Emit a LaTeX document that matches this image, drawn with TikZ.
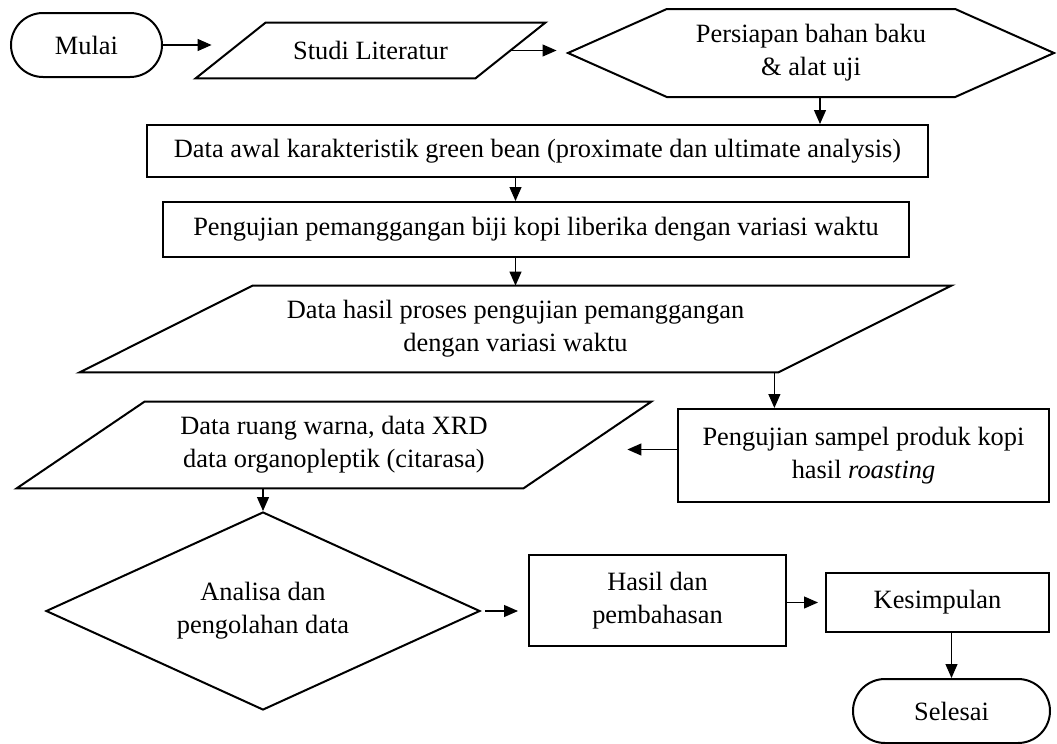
\documentclass[tikz,border=0pt]{standalone}
\usepackage{fontspec}
\setmainfont{Liberation Serif}
\usetikzlibrary{shapes.geometric,shapes.misc,shapes.symbols,arrows.meta}

\begin{document}
\begin{tikzpicture}[
      x=0.5pt, y=-0.5pt,
      every node/.style={font=\fontsize{13.2}{16.5}\selectfont, align=center, inner sep=0pt},
      box/.style={draw, line width=1pt, rectangle},
      terminal/.style={draw, line width=1pt, rounded rectangle},
      datanode/.style={rectangle},
      outline/.style={draw, line width=1pt, line join=miter},
      prep/.style={draw, line width=1pt, signal, signal to=west and east, signal pointer angle=48},
      decision/.style={draw, line width=1pt, diamond, aspect=2.19},
      arr/.style={draw, line width=0.6pt, -{Triangle[length=7pt,width=6pt]}}
    ]
      \useasboundingbox (0,0) rectangle (1057,744);

      \node[terminal, minimum width=75.5pt, minimum height=32pt] (mulai) at (86.5,45) {Mulai};
      \node[datanode, minimum width=174.5pt, minimum height=27.5pt] (studi) at (370.5,50.5) {Studi Literatur};
      \node[prep, minimum width=243pt, minimum height=44pt] (persiapan) at (811,53) {Persiapan bahan baku\\ \& alat uji};
      \node[box, minimum width=390.5pt, minimum height=26pt] (awal) at (537.5,151) {Data awal karakteristik green bean (proximate dan ultimate analysis)};
      \node[box, minimum width=373pt, minimum height=27.5pt] (panggang) at (536,229.5) {Pengujian pemanggangan biji kopi liberika dengan variasi waktu};
      \node[datanode, minimum width=435.5pt, minimum height=43pt] (hasilproses) at (515.5,329) {Data hasil proses pengujian pemanggangan\\ dengan variasi waktu};
      \node[box, minimum width=185.5pt, minimum height=46.5pt] (sampel) at (863.5,455.5) {Pengujian sampel produk kopi\\ hasil \textit{roasting}};
      \node[datanode, minimum width=317pt, minimum height=43pt] (ruang) at (334,445) {Data ruang warna, data XRD\\ data organopleptik (citarasa)};
      \node[decision, minimum width=217pt, minimum height=99pt] (analisa) at (263,611) {Analisa dan\\ pengolahan data};
      \node[box, minimum width=128.5pt, minimum height=45.5pt] (hasil) at (657.5,600.5) {Hasil dan\\ pembahasan};
      \node[box, minimum width=111.5pt, minimum height=29.5pt] (kesimpulan) at (937.5,602.5) {Kesimpulan};
      \node[terminal, minimum width=98.5pt, minimum height=32pt] (selesai) at (951.5,711) {Selesai};

      \draw[outline] ([xshift=35pt]studi.north west) -- (studi.north east) -- ([xshift=-35pt]studi.south east) -- (studi.south west) -- cycle;
      \draw[outline] ([xshift=86.5pt]hasilproses.north west) -- (hasilproses.north east) -- ([xshift=-86.5pt]hasilproses.south east) -- (hasilproses.south west) -- cycle;
      \draw[outline] ([xshift=64pt]ruang.north west) -- (ruang.north east) -- ([xshift=-64pt]ruang.south east) -- (ruang.south west) -- cycle;

      \draw[arr, shorten >=-8pt] (mulai.east) -- (mulai.east -| studi.west);
      \draw[arr, shorten >=4.5pt] ([xshift=-18pt]studi.east) -- (studi.east -| persiapan.west);
      \draw[arr] ([xshift=4.5pt]persiapan.south) -- ([xshift=4.5pt]persiapan.south |- awal.north);
      \draw[arr] (awal.south -| hasilproses.north) -- (panggang.north -| hasilproses.north);
      \draw[arr] (panggang.south -| hasilproses.north) -- (hasilproses.north);
      \draw[arr] ([xshift=-88.5pt]hasilproses.south east) -- ([xshift=-88.5pt]hasilproses.south east |- sampel.north);
      \draw[arr, shorten >=-12pt] ([yshift=3pt]sampel.west) -- ([yshift=3pt]sampel.west -| ruang.east);
      \draw[arr] (analisa.north |- ruang.south) -- (analisa.north);
      \draw[arr, shorten <=2pt, shorten >=5pt] (analisa.east) -- (analisa.east -| hasil.west);
      \draw[arr, shorten >=3.5pt] (kesimpulan.west -| hasil.east) -- (kesimpulan.west);
      \draw[arr] (selesai.north |- kesimpulan.south) -- (selesai.north);
    \end{tikzpicture}
\end{document}
